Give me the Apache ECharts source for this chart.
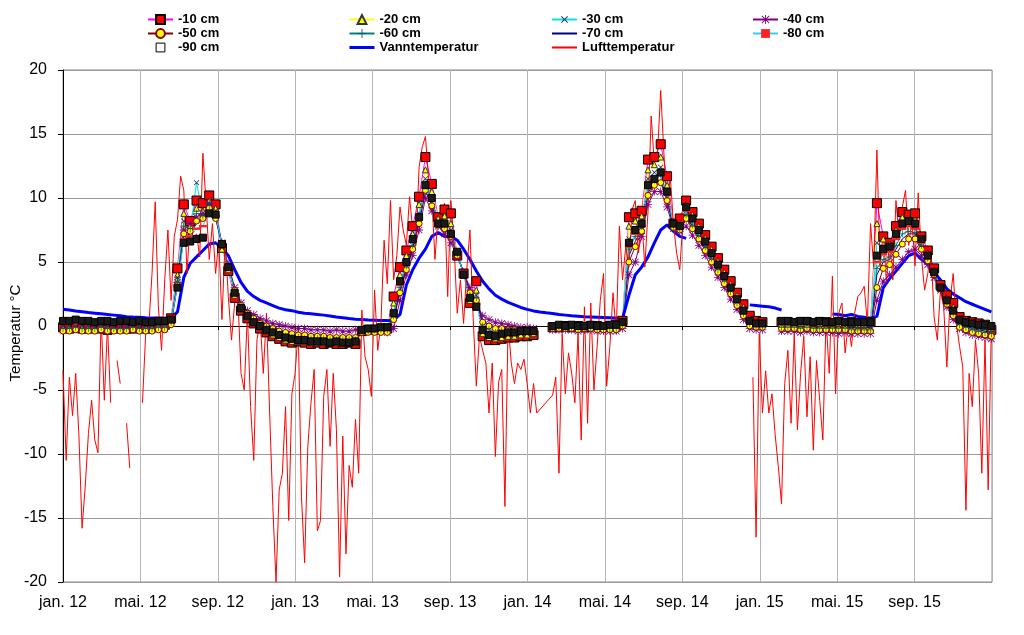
<!DOCTYPE html>
<html><head><meta charset="utf-8">
<script src="https://cdn.jsdelivr.net/npm/echarts@6/dist/echarts.min.js"></script>
<style>html,body{margin:0;padding:0;background:#fff}#c{width:1024px;height:635px}</style>
</head><body><div id="c"></div><script>
const _ = undefined; // day without reading, line bridged over it
// x = days since 1 Jan 2012
const xTickLabels = ['jan. 12','mai. 12','sep. 12','jan. 13','mai. 13','sep. 13','jan. 14','mai. 14','sep. 14','jan. 15','mai. 15','sep. 15'];
const totalDays = 1461;
const airStepDays = 5;
const soilStepDays = 10;
const waterStepDays = 10;

const luft = [
-3.5,-10.5,-4,-7,-3.7,-8.5,-15.8,-12.5,-8.4,-5.8,-8.9,-9.9,0.7,-5.8,0,-6,null,-2.7,-4.5,null,
-7.6,-11.1,null,null,null,-6,-0.6,0,4.1,9.7,1.5,-1.9,3.6,7.5,2,7,8.3,11.7,10.6,4.1,
8.3,6.7,7.2,5.4,13.5,9.6,5.2,8,4.1,6.7,0.5,6.7,2.3,-1.1,1.8,2.3,-3.7,-5,1,-6.3,
-10.5,-1.1,0.5,-3.7,1,-6.8,-14.1,-20,-12.8,-11.5,-6.3,-15.2,-5.3,-3.7,-0.3,-13.3,-18.5,-9.4,-6,-3.4,
-16,-15.2,-5.5,-3.4,-9.4,-3.7,-8.1,-19.6,-8.6,-17.8,-10.9,-12.6,-7.3,-11.5,1.25,-2.4,-3.4,-5.5,2.8,-1.9,
0.2,6.7,3.3,9.8,3.6,5.5,9.3,7.5,6.3,10.1,7.5,6.3,12.4,14,14.8,11.5,10.1,5.2,8.8,7.5,
9.6,2.3,9.8,6.3,1,3.6,0.2,4.4,7.5,0.7,-4.7,-0.8,-1.9,-2.9,-6.8,-2.9,-10.2,-4.4,-3.4,-14.1,
0.2,-2.9,-4.5,-2.9,-3.4,-2.6,-4.5,-6.8,-4.5,-6.8,_,_,_,_,-5.4,-4,-11.5,-0.6,-5.3,-2.1,
-3.7,-6,-0.6,-8.9,1.5,-7.6,1.8,-5,-1.6,2,4.1,-4.7,-1.6,2.6,-0.6,7.8,3.6,6.2,4.6,9.1,
9.8,5.7,8.6,4.6,8.9,16.4,12.7,13.5,18.4,13.5,9.3,11.7,8,5.7,4.4,8.3,8.8,null,null,null,
null,null,null,null,null,null,null,null,null,null,null,null,null,null,null,null,null,-4,-16.5,-0.6,
-6.8,-3.5,-6.8,-5.3,-8.5,-11,-13.9,-4.5,-1.9,-7.6,-0.6,-8.1,-3.7,-0.8,-7.1,-2.4,-9.7,-2.7,-5.8,-8.9,
0.6,-3.7,3.9,-5.3,1,1.8,-2.1,0.2,-1.6,1,2.3,2.6,3.1,0.2,8,4.6,13.75,4.6,7.3,3.4,
6.8,3.6,9.8,6.8,9.3,10.6,6.3,8.3,4.7,10.4,5.4,2.8,4.1,5.9,0.7,-1.1,2.8,1.5,-3.2,2,
4.1,0.2,-1.6,-3.2,-14.4,-3.7,-6.3,-1.1,-3.7,-11.5,-1.1,-12.8,0
];

const vann = [
1.3,1.25,1.18,1.12,1.05,1.0,0.95,0.9,0.85,0.8,0.73,0.7,0.68,0.65,0.63,0.62,0.6,0.6,
1.1,3.8,4.9,5.4,5.9,6.4,6.5,6.1,5.5,4.4,3.4,2.7,2.3,2.0,1.8,1.6,1.4,1.27,1.2,1.08,1.0,0.95,0.9,0.85,0.78,0.7,0.65,0.58,0.53,0.5,0.47,0.45,0.43,0.42,0.45,
0.9,3.2,4.4,5.3,6.0,7.0,7.3,7.0,7.0,6.7,6.0,5.2,4.3,3.5,2.9,2.4,2.1,1.85,1.65,1.45,1.3,1.18,1.1,1.03,0.97,0.9,0.85,0.8,0.76,0.72,0.7,0.68,0.66,0.64,0.62,0.6,2.4,4.0,4.6,5.4,6.5,7.5,7.9,7.4,7.0,6.85,
null,null,null,null,null,null,null,null,null,
1.65,1.6,1.55,1.5,1.4,1.25,
null,null,null,null,null,null,null,
0.94,0.9,0.8,0.9,0.75,0.68,0.6,0.75,3.0,3.7,4.3,4.9,5.5,5.7,5.2,4.8,4.2,3.6,2.9,2.5,2.2,1.9,1.7,1.5,1.3,1.1
];

const s10 = [
-0.1,-0.2,-0.1,-0.2,-0.2,-0.1,-0.2,-0.3,-0.2,-0.1,-0.2,-0.2,-0.1,-0.2,-0.1,0.0,0.1,
0.6,
4.5,9.5,8.2,9.8,9.6,10.2,9.5,6.1,4.3,2.2,1.2,0.6,0.2,-0.2,
-0.5,-0.8,-1.0,-1.2,-1.3,-1.2,-1.3,-1.4,-1.3,-1.4,-1.3,-1.4,-1.4,-1.3,-1.4,-0.4,-0.3,-0.3,-0.2,-0.2,
2.3,4.6,5.9,7.8,10.1,13.2,11.1,8.5,9.1,8.8,5.5,4.1,1.8,3.5,-0.8,-1.1,
-1.1,-1.0,-0.9,-0.9,-0.8,-0.8,-0.7,
null,null,
-0.1,-0.1,0.0,-0.1,0.0,-0.1,0.0,0.0,-0.1,0.0,0.1,
0.4,8.5,8.8,9.0,13.0,13.2,14.2,11.7,8.0,8.4,9.8,
8.9,8.0,7.1,6.2,5.3,4.4,3.5,2.6,1.7,0.8,
0.4,0.3,
null,null,
0.3,0.3,0.2,0.3,0.3,0.2,0.3,0.3,0.2,0.3,0.2,0.3,0.2,0.2,
0.3,9.6,7.0,6.5,7.8,8.9,8.7,8.8,7.0,5.9,4.5,3.2,2.4,1.8,0.7,0.4,0.3,0.2,0.1,-0.3
];
const s20 = [
-0.1,-0.1,-0.2,-0.1,-0.1,-0.2,-0.1,-0.1,-0.2,-0.2,-0.1,-0.1,-0.2,-0.1,-0.1,0.0,0.0,
0.5,
4.0,8.8,7.8,9.2,9.0,9.8,9.2,6.0,4.4,2.4,1.3,0.7,0.3,-0.1,
-0.4,-0.7,-0.9,-1.1,-1.2,-1.2,-1.2,-1.3,-1.3,-1.3,-1.3,-1.3,-1.3,-1.3,-1.3,-0.3,-0.3,-0.2,-0.2,-0.2,
1.8,4.0,5.5,7.2,9.5,12.2,10.5,8.4,8.6,8.0,5.6,4.0,2.0,2.8,-0.6,-0.9,
-1.0,-0.9,-0.8,-0.8,-0.7,-0.7,-0.6,
null,null,
-0.1,0.0,0.0,-0.1,0.0,0.0,-0.1,0.0,0.0,0.0,0.1,
0.4,7.8,8.2,8.6,12.2,12.6,13.2,11.0,7.9,8.0,9.5,
8.7,7.8,6.9,6.0,5.1,4.2,3.3,2.4,1.5,0.6,
0.3,0.3,
null,null,
0.2,0.2,0.2,0.2,0.2,0.2,0.2,0.2,0.2,0.2,0.1,0.2,0.1,0.1,
0.2,8.0,6.8,6.4,7.5,8.5,8.4,8.3,6.8,5.7,4.4,3.1,2.2,1.5,0.5,0.3,0.2,0.1,0.0,-0.2
];
const s30 = [
0.0,0.0,-0.1,0.0,0.0,-0.1,0.0,0.0,-0.1,0.0,0.0,-0.1,0.0,0.0,0.0,0.1,0.1,
0.4,
3.8,8.2,7.4,11.2,8.6,9.5,9.0,6.2,4.5,2.6,1.5,0.9,0.5,0.1,
-0.2,-0.5,-0.7,-0.9,-1.0,-1.0,-1.1,-1.1,-1.1,-1.2,-1.2,-1.2,-1.2,-1.2,-1.2,-0.3,-0.3,-0.2,-0.2,-0.2,
1.2,3.4,5.0,6.6,8.8,11.5,10.0,8.2,8.2,7.5,5.6,4.1,2.3,2.4,-0.3,-0.6,
-0.7,-0.6,-0.5,-0.5,-0.5,-0.4,-0.4,
null,null,
-0.1,-0.1,-0.1,-0.1,-0.1,-0.1,-0.1,-0.1,-0.1,-0.1,0.0,
0.2,6.8,7.6,8.2,11.5,12.0,12.4,10.6,7.8,7.8,9.0,
8.3,7.4,6.5,5.6,4.7,3.8,2.9,2.0,1.1,0.3,
0.1,0.1,
null,null,
0.1,0.1,0.0,0.1,0.1,0.0,0.1,0.0,0.0,0.1,0.0,0.0,0.0,0.0,
0.0,6.5,6.2,6.0,7.0,8.0,8.0,7.8,6.5,5.4,4.2,3.0,2.0,1.2,0.3,0.1,0.0,-0.1,-0.2,-0.3
];
const s40 = [
-0.3,-0.3,-0.2,-0.3,-0.3,-0.3,-0.2,-0.3,-0.3,-0.3,-0.2,-0.3,-0.3,-0.3,-0.3,-0.2,-0.2,
0.2,
3.4,7.5,8.0,8.5,8.8,9.6,8.6,6.5,4.8,3.0,1.8,1.2,0.9,0.6,
0.4,0.2,0.1,0.0,-0.1,-0.2,-0.2,-0.3,-0.3,-0.3,-0.4,-0.3,-0.4,-0.4,-0.3,-0.4,-0.4,-0.4,-0.4,-0.5,
-0.2,2.0,4.0,5.5,7.5,10.0,9.0,7.8,7.2,6.5,5.5,4.2,3.0,1.8,0.8,0.5,
0.3,0.2,0.1,0.0,-0.1,-0.1,-0.2,
null,null,
-0.3,-0.3,-0.3,-0.3,-0.4,-0.3,-0.3,-0.4,-0.4,-0.4,-0.4,
-0.2,4.0,5.0,7.0,9.5,10.5,10.5,9.3,7.6,7.4,7.8,
7.1,6.3,5.5,4.6,3.8,3.0,2.1,1.3,0.5,-0.2,
-0.3,-0.3,
null,null,
-0.4,-0.4,-0.4,-0.5,-0.4,-0.5,-0.5,-0.5,-0.5,-0.6,-0.5,-0.6,-0.6,-0.6,
-0.6,2.0,3.5,4.0,4.6,5.2,5.8,6.0,5.5,4.8,3.8,2.8,1.5,0.5,-0.2,-0.5,-0.7,-0.8,-0.9,-1.0
];
const s50 = [
-0.4,-0.4,-0.3,-0.4,-0.4,-0.4,-0.3,-0.4,-0.4,-0.4,-0.4,-0.3,-0.4,-0.4,-0.4,-0.3,-0.3,
0.1,
3.2,7.2,7.4,8.2,8.4,9.2,8.4,6.3,4.6,2.8,1.6,1.0,0.6,0.2,
0.0,-0.2,-0.4,-0.5,-0.6,-0.7,-0.7,-0.8,-0.8,-0.8,-0.9,-0.9,-0.9,-0.9,-0.9,-0.5,-0.5,-0.5,-0.5,-0.5,
0.5,2.6,4.4,6.0,8.0,10.6,9.4,7.9,7.6,7.0,5.5,4.1,2.6,2.0,0.3,0.0,
-0.2,-0.2,-0.3,-0.3,-0.3,-0.3,-0.3,
null,null,
-0.2,-0.2,-0.2,-0.2,-0.3,-0.2,-0.2,-0.3,-0.3,-0.3,-0.3,
0.0,5.0,6.2,7.4,10.2,11.0,11.2,9.8,7.7,7.5,8.4,
7.6,6.8,5.9,5.0,4.2,3.3,2.5,1.6,0.8,0.0,
-0.1,-0.1,
null,null,
-0.2,-0.2,-0.2,-0.3,-0.2,-0.3,-0.3,-0.3,-0.3,-0.3,-0.3,-0.4,-0.4,-0.4,
-0.4,3.0,4.5,4.8,5.6,6.4,6.8,6.8,6.0,5.1,4.0,2.9,1.7,0.8,-0.1,-0.3,-0.5,-0.6,-0.7,-0.8
];
const s60 = [
-0.2,-0.2,-0.1,-0.2,-0.2,-0.2,-0.1,-0.2,-0.2,-0.2,-0.2,-0.1,-0.2,-0.2,-0.2,-0.1,-0.1,
0.3,
3.5,7.8,7.6,8.8,8.6,9.4,8.8,6.4,4.6,2.7,1.5,0.9,0.5,0.1,
-0.1,-0.4,-0.6,-0.8,-0.9,-0.9,-1.0,-1.0,-1.0,-1.0,-1.1,-1.1,-1.1,-1.1,-1.1,-0.4,-0.4,-0.3,-0.3,-0.3,
0.8,3.0,4.7,6.3,8.4,11.0,9.8,8.0,7.9,7.2,5.6,4.1,2.4,2.2,0.0,-0.3,
-0.5,-0.4,-0.4,-0.4,-0.4,-0.3,-0.3,
null,null,
-0.2,-0.1,-0.2,-0.2,-0.2,-0.1,-0.2,-0.2,-0.2,-0.2,-0.2,
0.1,6.0,7.0,7.8,10.8,11.4,11.8,10.2,7.8,7.6,8.7,
7.9,7.1,6.2,5.3,4.4,3.6,2.7,1.8,1.0,0.2,
0.0,0.0,
null,null,
-0.1,-0.1,-0.1,-0.2,-0.1,-0.2,-0.2,-0.2,-0.2,-0.2,-0.2,-0.3,-0.3,-0.3,
-0.3,4.5,5.2,5.4,6.3,7.2,7.4,7.3,6.3,5.3,4.1,2.9,1.8,1.0,0.1,-0.1,-0.3,-0.4,-0.5,-0.6
];
const s70 = [
0.1,0.1,0.0,0.1,0.1,0.0,0.1,0.1,0.0,0.1,0.1,0.0,0.1,0.0,0.1,0.1,0.1,
0.3,
3.3,7.0,7.2,8.0,8.3,9.0,8.5,6.4,4.7,2.8,1.6,1.0,0.6,0.3,
0.1,-0.1,-0.3,-0.4,-0.5,-0.6,-0.6,-0.7,-0.7,-0.7,-0.8,-0.8,-0.8,-0.8,-0.8,-0.3,-0.3,-0.3,-0.2,-0.2,
0.6,2.8,4.5,6.1,8.2,10.5,9.5,8.0,7.7,7.0,5.6,4.2,2.7,2.0,0.4,0.1,
-0.1,-0.1,-0.1,-0.2,-0.2,-0.2,-0.2,
null,null,
0.0,0.0,0.0,0.0,-0.1,0.0,0.0,-0.1,0.0,0.0,0.0,
0.2,5.5,6.6,7.6,10.4,11.2,11.4,10.0,7.8,7.6,8.5,
7.8,6.9,6.1,5.2,4.3,3.5,2.6,1.7,0.9,0.1,
0.0,0.0,
null,null,
0.0,0.0,0.0,0.0,0.0,-0.1,0.0,-0.1,-0.1,-0.1,-0.1,-0.1,-0.1,-0.1,
-0.1,4.0,5.0,5.2,6.0,6.8,7.2,7.2,6.2,5.2,4.1,2.9,1.8,0.9,0.2,0.0,-0.2,-0.3,-0.4,-0.5
];
const s80 = [
0.3,0.3,0.2,0.3,0.3,0.3,0.2,0.3,0.3,0.2,0.3,0.3,0.2,0.3,0.2,0.3,0.3,
0.4,
3.1,6.8,7.0,7.6,7.8,8.9,8.6,6.4,4.6,2.7,1.5,0.9,0.4,0.1,
-0.2,-0.4,-0.6,-0.8,-0.9,-1.0,-1.0,-1.1,-1.1,-1.1,-1.2,-1.1,-1.2,-1.2,-1.1,-0.3,-0.2,-0.2,-0.2,-0.1,
0.9,3.2,4.8,6.6,8.4,10.8,9.8,8.0,8.0,7.1,5.7,4.0,2.3,1.7,-0.2,-0.5,
-0.6,-0.5,-0.4,-0.4,-0.4,-0.3,-0.3,
null,null,
0.0,0.0,0.0,0.1,0.0,0.0,0.0,0.0,0.0,0.0,0.1,
0.3,6.2,7.2,7.8,10.8,11.4,11.8,10.3,7.9,7.7,9.0,
8.2,7.3,6.4,5.5,4.6,3.7,2.8,1.9,1.0,0.3,
0.2,0.2,
null,null,
0.3,0.3,0.2,0.3,0.3,0.2,0.3,0.2,0.2,0.3,0.2,0.2,0.2,0.2,
0.2,5.0,5.6,5.8,6.8,7.6,7.8,7.6,6.5,5.3,4.1,2.9,1.9,1.1,0.4,0.2,0.1,0.0,0.0,-0.1
];
const s90 = [
0.4,0.4,0.5,0.4,0.4,0.3,0.4,0.4,0.3,0.4,0.4,0.3,0.4,0.3,0.3,0.4,0.4,
0.5,
3.0,6.5,6.6,6.8,6.9,8.8,8.7,6.4,4.6,2.6,1.4,0.8,0.3,0.0,
-0.3,-0.5,-0.7,-0.9,-1.0,-1.1,-1.1,-1.2,-1.2,-1.2,-1.3,-1.2,-1.3,-1.3,-1.2,-0.3,-0.2,-0.2,-0.1,-0.1,
1.0,3.5,5.0,6.8,8.5,11.0,10.0,8.0,8.0,7.2,5.8,4.0,2.2,1.5,-0.3,-0.7,
-0.8,-0.6,-0.5,-0.5,-0.4,-0.4,-0.4,
null,null,
0.0,0.1,0.0,0.1,0.0,0.0,0.1,0.0,0.0,0.1,0.1,
0.3,6.5,7.5,8.0,11.0,11.5,12.0,10.5,8.0,7.8,9.3,
8.4,7.5,6.6,5.7,4.8,3.9,3.0,2.1,1.2,0.4,
0.2,0.2,
null,null,
0.4,0.4,0.3,0.4,0.4,0.3,0.4,0.3,0.3,0.4,0.3,0.3,0.3,0.3,
0.3,5.5,6.0,6.2,7.2,8.0,8.2,8.0,6.8,5.5,4.2,3.0,2.0,1.2,0.5,0.3,0.2,0.1,0.1,0.0
];

const toPairs = (arr, step) => arr
  .map((v, i) => (v === undefined ? undefined : [i * step, v]))
  .filter(p => p !== undefined);

const FONT = "'Liberation Sans', Arial, sans-serif";
const tickStep = totalDays / 12;
const PLUS = 'path://M4.5,0h1v4.5h4.5v1h-4.5v4.5h-1v-4.5h-4.5v-1h4.5z';
const STAR = 'path://M4.5,0h1v4.5h4.5v1h-4.5v4.5h-1v-4.5h-4.5v-1h4.5z M1.2,0.5l8.3,8.3l-0.7,0.7l-8.3,-8.3z M8.8,0.5l0.7,0.7l-8.3,8.3l-0.7,-0.7z';
const DASH = 'path://M0,0h10v3h-10z';

function soil(name, arr, sym, size, lineColor, fill, border, extra) {
  return Object.assign({
    name, type: 'line', data: toPairs(arr, soilStepDays),
    symbol: sym, symbolSize: size, showAllSymbol: true,
    lineStyle: { color: lineColor, width: 1 },
    itemStyle: { color: fill, borderColor: border || fill, borderWidth: border ? 1 : 0 },
    emphasis: { disabled: true }
  }, extra || {});
}

// drawn in spreadsheet order: later series on top
const series = [
  soil('-10 cm', s10, 'rect', 9, '#ff00ff', '#ff0000', '#000'),
  soil('-20 cm', s20, 'triangle', 6, '#ffff00', '#ffff00', '#333'),
  soil('-30 cm', s30, PLUS, 7, '#00e5e5', '#1a1a50', null, { symbolRotate: 45 }),
  soil('-40 cm', s40, STAR, 8, '#800080', '#800080', null),
  soil('-50 cm', s50, 'circle', 6, '#800000', '#ffff00', '#800000'),
  soil('-60 cm', s60, PLUS, 7, '#008080', '#006060', null),
  soil('-70 cm', s70, 'none', 0, '#000080', '#000080', null),
  soil('-80 cm', s80, DASH, 8, '#33ccff', '#ff2020', null, { symbolKeepAspect: true }),
  soil('-90 cm', s90, 'rect', 7, '#000', '#1a1a1a', '#000', { lineStyle: { width: 0, opacity: 0 } }),
  { name: 'Vanntemperatur', type: 'line', data: toPairs(vann, waterStepDays), symbol: 'none',
    lineStyle: { color: '#0000ff', width: 3 }, itemStyle: { color: '#0000ff' }, emphasis: { disabled: true } },
  { name: 'Lufttemperatur', type: 'line', data: toPairs(luft, airStepDays), symbol: 'none',
    lineStyle: { color: '#ff0000', width: 1 }, itemStyle: { color: '#ff0000' }, emphasis: { disabled: true } }
];

const noMarker = { color: 'rgba(0,0,0,0)', borderColor: 'rgba(0,0,0,0)', borderWidth: 0 };
const legendBase = {
  orient: 'vertical', top: 8, itemGap: 1, itemWidth: 25, itemHeight: 11,
  selectedMode: false,
  textStyle: { fontFamily: FONT, fontSize: 13, fontWeight: 'bold', color: '#000' }
};

const xBase = { type: 'value', min: 0, max: totalDays, interval: tickStep };

const chart = echarts.init(document.getElementById('c'), null, { renderer: 'canvas' });
chart.setOption({
  animation: false,
  backgroundColor: '#fff',
  grid: { left: 63, right: 32, top: 70, bottom: 53, outerBoundsMode: 'none', containLabel: false,
    show: true, borderColor: '#8c8c8c', borderWidth: 1, backgroundColor: 'transparent' },
  legend: [
    Object.assign({}, legendBase, { left: 142, data: ['-10 cm', '-50 cm', { name: '-90 cm', itemStyle: { color: '#fff', borderColor: '#000', borderWidth: 1 } }] }),
    Object.assign({}, legendBase, { left: 343, data: ['-20 cm', '-60 cm', { name: 'Vanntemperatur', itemStyle: noMarker, lineStyle: { width: 3 } }] }),
    Object.assign({}, legendBase, { left: 546, data: ['-30 cm', { name: '-70 cm', itemStyle: noMarker }, { name: 'Lufttemperatur', itemStyle: noMarker }] }),
    Object.assign({}, legendBase, { left: 747, data: ['-40 cm', '-80 cm'] })
  ],
  xAxis: [
    Object.assign({}, xBase, {
      position: 'bottom',
      axisLine: { show: false, onZero: false },
      axisTick: { show: false },
      splitLine: { show: true, lineStyle: { color: '#b4b4b4', width: 1 } },
      axisLabel: { fontFamily: FONT, fontSize: 16, color: '#000', margin: 13, showMaxLabel: false,
        formatter: v => { const k = Math.round(v / tickStep); return xTickLabels[k] !== undefined ? xTickLabels[k] : ''; } }
    }),
    Object.assign({}, xBase, {
      position: 'top',
      axisLine: { show: true, onZero: true, lineStyle: { color: '#000', width: 1 } },
      axisTick: { show: true, inside: true, length: 4, lineStyle: { color: '#000' } },
      axisLabel: { show: false },
      splitLine: { show: false }
    })
  ],
  yAxis: {
    type: 'value', min: -20, max: 20, interval: 5,
    axisLine: { show: true, onZero: false, lineStyle: { color: '#000', width: 1 } },
    axisTick: { show: true, length: 5, lineStyle: { color: '#000' } },
    splitLine: { show: true, lineStyle: { color: '#9a9a9a', width: 1 } },
    axisLabel: { fontFamily: FONT, fontSize: 16, color: '#000', margin: 16 },
    name: 'Temperatur °C', nameLocation: 'middle', nameGap: 40, nameMoveOverlap: false,
    nameTextStyle: { fontFamily: FONT, fontSize: 15, color: '#000', padding: [0, 14, 0, 0] }
  },
  series
});
</script></body></html>
